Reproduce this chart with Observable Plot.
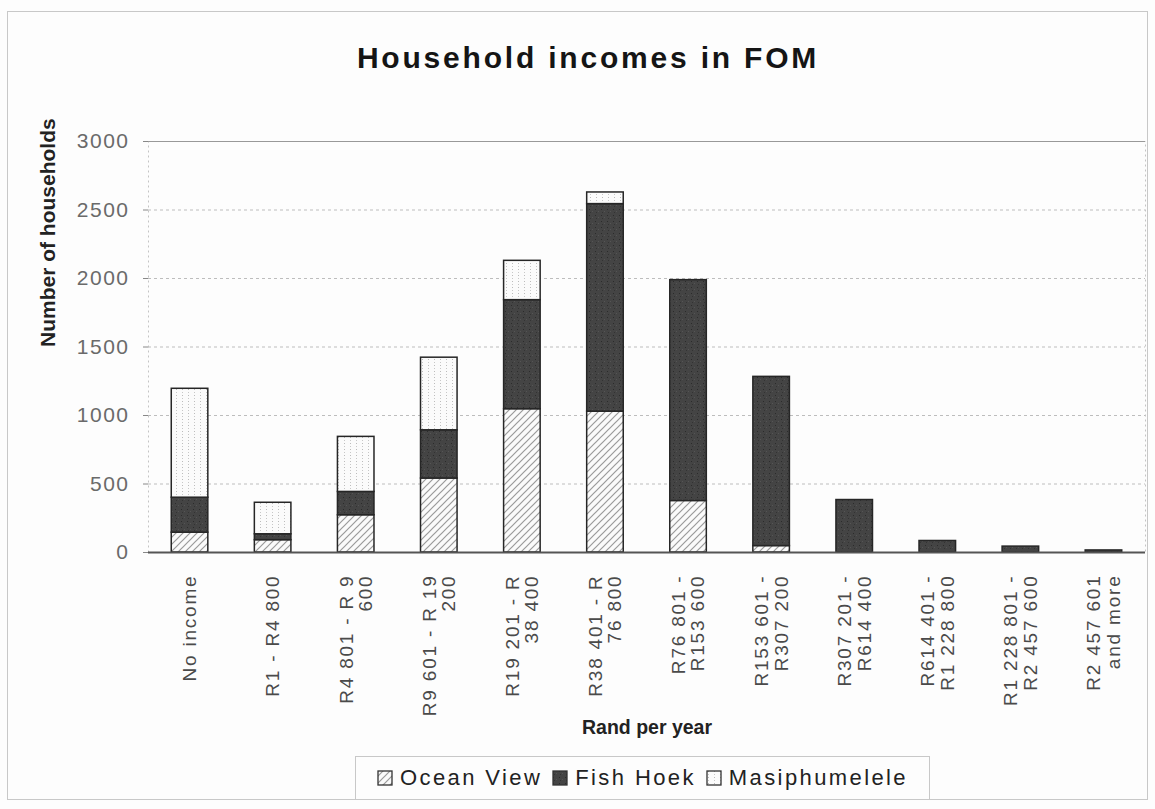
<!DOCTYPE html>
<html><head><meta charset="utf-8">
<script src="https://cdn.jsdelivr.net/npm/d3@7"></script>
<script src="https://cdn.jsdelivr.net/npm/@observablehq/plot@0.6"></script>
<style>
body{margin:0;background:#fff;font-family:"Liberation Sans",Arial,sans-serif;}
#wrap{position:relative;width:1155px;height:809px;overflow:hidden;background:#fdfdfd;}
#frame{position:absolute;left:7px;top:11px;width:1141px;height:789px;border:1px solid #c8c8c8;box-sizing:border-box;}
#title{position:absolute;left:0;width:1176px;top:43px;line-height:30px;text-align:center;font-size:30px;font-weight:bold;letter-spacing:2.8px;color:#151515;}
#chart{position:absolute;left:0;top:100px;}
#legend{position:absolute;left:355px;top:756px;width:575px;height:44px;border:1px solid #c8c8c8;box-sizing:border-box;display:flex;align-items:center;justify-content:center;font-size:22px;letter-spacing:2.4px;color:#222;}
#legend .item{display:flex;align-items:center;margin:0 5px;}
#legend svg{margin-right:7px;}
[aria-label="y-axis tick label"]{font-size:21px;letter-spacing:1.5px;fill:#6a6a6a;}
[aria-label="x-axis tick label"]{font-size:19px;letter-spacing:1.8px;fill:#4a4a4a;}
</style>
</head><body>
<div id="wrap">
  <div id="frame"></div>
  <div id="title">Household incomes in FOM</div>
  <div id="chart"></div>
  <div id="legend"></div>
</div>
<script>
const categories = ["No income","R1 - R4 800","R4 801 - R 9 600","R9 601 - R 19 200","R19 201 - R 38 400","R38 401 - R 76 800","R76 801 - R153 600","R153 601 - R307 200","R307 201 - R614 400","R614 401 - R1 228 800","R1 228 801 - R2 457 600","R2 457 601 and more"];
const tickLabels = ["No income","R1 - R4 800","R4 801 - R 9\n600","R9 601 - R 19\n200","R19 201 - R\n38 400","R38 401 - R\n76 800","R76 801 -\nR153 600","R153 601 -\nR307 200","R307 201 -\nR614 400","R614 401 -\nR1 228 800","R1 228 801 -\nR2 457 600","R2 457 601\nand more"];
const seriesNames = ["Ocean View","Fish Hoek","Masiphumelele"];
const oceanView     = [145, 90, 272, 540, 1046, 1028, 376, 47, 0, 0, 0, 0];
const fishHoek      = [255, 43, 170, 352, 796, 1515, 1612, 1235, 383, 84, 43, 15];
const masiphumelele = [795, 230, 402, 530, 287, 85, 0, 0, 0, 0, 0, 0];
const yTicks = [0, 500, 1000, 1500, 2000, 2500, 3000];
const fills = ["url(#pOV)", "url(#pFH)", "url(#pM)"];

const seriesValues = [oceanView, fishHoek, masiphumelele];
const table = [];
categories.forEach((c, i) => {
  seriesNames.forEach((s, j) => {
    const v = seriesValues[j][i];
    if (v > 0) table.push({category: c, series: s, value: v});
  });
});
const labelOf = new Map(categories.map((c, i) => [c, tickLabels[i]]));

const chart = Plot.plot({
  width: 1155,
  height: 650,
  marginLeft: 148,
  marginRight: 10,
  marginTop: 41,
  marginBottom: 198,
  style: {fontFamily: "'Liberation Sans', Arial, sans-serif", fontSize: "19px", background: "transparent"},
  x: {domain: categories, paddingInner: 0.56, paddingOuter: 0.28, round: false},
  y: {domain: [0, 3000]},
  color: {type: "ordinal", domain: seriesNames, range: fills},
  marks: [
    Plot.frame({stroke: "#c4c4c4", strokeDasharray: "2,3"}),
    Plot.ruleY(yTicks.filter(d => d > 0 && d < 3000), {stroke: "#bdbdbd", strokeDasharray: "3,3"}),
    Plot.ruleY([3000], {stroke: "#999"}),
    Plot.barY(table, Plot.stackY({x: "category", y: "value", fill: "series", stroke: "#262626", strokeWidth: 1.5})),
    Plot.ruleY([0], {stroke: "#555", strokeWidth: 2}),
    Plot.axisY({ticks: yTicks, tickSize: 5, tickPadding: 14, tickFormat: d => String(d), label: null, stroke: "#888"}),
    Plot.axisX({tickSize: 0, tickPadding: 22, tickRotate: -90, textAnchor: "end", lineAnchor: "middle", lineHeight: 1.02, tickFormat: d => labelOf.get(d), label: null}),
    Plot.text(["Number of households"], {frameAnchor: "left", dx: -100, rotate: -90, fontSize: 21, fontWeight: "bold", fill: "#222"}),
    Plot.text(["Rand per year"], {frameAnchor: "bottom", dy: 181, fontSize: 19.5, fontWeight: "bold", fill: "#222"})
  ]
});

const defs = `
<defs>
  <pattern id="pOV" patternUnits="userSpaceOnUse" width="7" height="7">
    <rect width="7" height="7" fill="#fafafa"/>
    <path d="M-1,1 l2,-2 M0,7 l7,-7 M6,8 l2,-2" stroke="#9a9a9a" stroke-width="1.2"/>
  </pattern>
  <pattern id="pFH" patternUnits="userSpaceOnUse" width="6" height="6">
    <rect width="6" height="6" fill="#444"/>
    <rect x="1" y="1" width="1" height="1" fill="#2b2b2b"/>
    <rect x="4" y="3" width="1" height="1" fill="#555"/>
    <rect x="2" y="4" width="1" height="1" fill="#333"/>
  </pattern>
  <pattern id="pM" patternUnits="userSpaceOnUse" width="6" height="6">
    <rect width="6" height="6" fill="#fbfbfb"/>
    <rect x="2" y="1" width="1" height="1" fill="#bbb"/>
    <rect x="2" y="4" width="1" height="1" fill="#c8c8c8"/>
  </pattern>
</defs>`;
d3.select(chart).insert("g", ":first-child").html(defs);
document.getElementById("chart").appendChild(chart);

const legend = d3.select("#legend");
seriesNames.forEach((s, i) => {
  const item = legend.append("span").attr("class", "item");
  const sw = item.append("svg").attr("width", 16).attr("height", 16);
  sw.append("rect").attr("x", 1).attr("y", 1).attr("width", 14).attr("height", 14)
    .attr("fill", fills[i]).attr("stroke", "#333").attr("stroke-width", 1.3);
  item.append("span").text(s);
});
</script>
</body></html>
